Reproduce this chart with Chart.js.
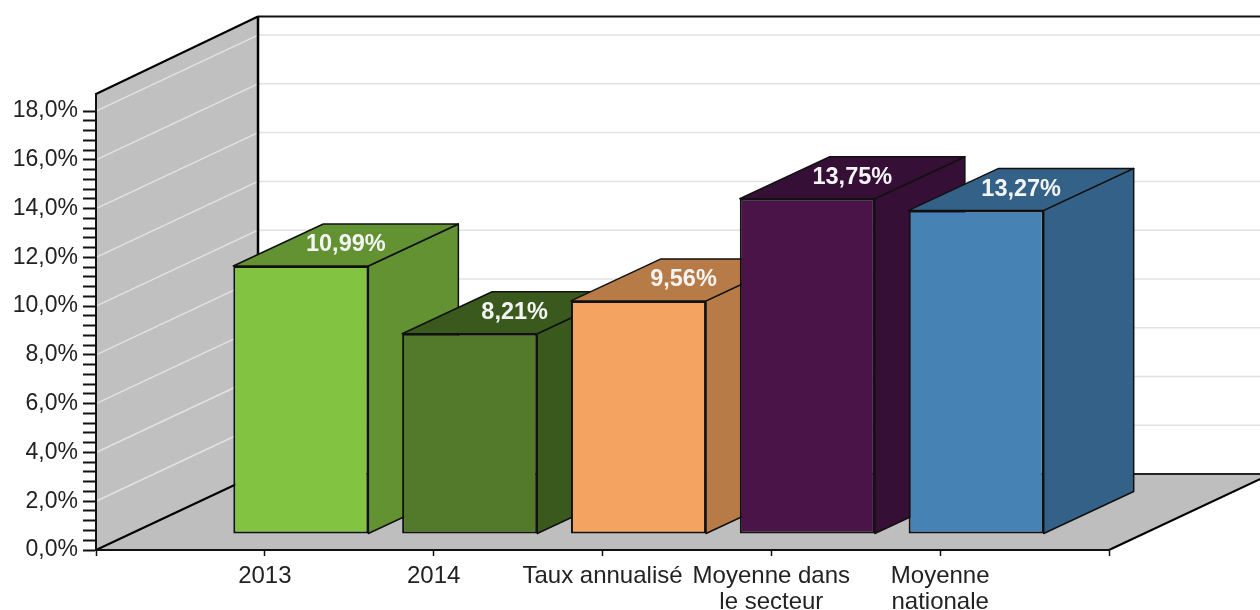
<!DOCTYPE html>
<html><head><meta charset="utf-8">
<style>html,body{margin:0;padding:0;background:#fff}canvas{display:block}</style>
<script src="https://cdn.jsdelivr.net/npm/chart.js@4"></script>
</head><body><canvas id="c" width="1260" height="610"></canvas>
<script>
const categories = ['2013','2014','Taux annualisé',['Moyenne dans','le secteur'],['Moyenne','nationale']];
const values = [10.99, 8.21, 9.56, 13.75, 13.27];
const frontColors = ['#82c341','#527a2a','#f4a460','#4a1449','#4682b4'];
const sideColors = ['#629231','#3a5a1d','#b77b48','#360f36','#336187'];
const gridValues = [2,4,6,8,10,12,14,16,18];

const DX = 162, DY = -76, TOPDY = -77.5; // wall depth
const BX = 36, BY = -16;       // bar inset from the front of the floor
const BDX = 90, BDY = -42;     // bar depth
const fmt = v => v.toFixed(2).replace('.', ',') + '%';

function poly(ctx, pts, fill, stroke, lw){
  ctx.beginPath();
  pts.forEach((p,i)=> i?ctx.lineTo(p[0],p[1]):ctx.moveTo(p[0],p[1]));
  ctx.closePath();
  if(fill){ctx.fillStyle=fill;ctx.fill();}
  if(stroke){ctx.strokeStyle=stroke;ctx.lineWidth=lw;ctx.stroke();}
}
function line(ctx,x0,y0,x1,y1,c,w){
  ctx.beginPath();ctx.moveTo(x0,y0);ctx.lineTo(x1,y1);ctx.strokeStyle=c;ctx.lineWidth=w;ctx.stroke();
}

const box3d = {
  id:'box3d',
  beforeDraw(chart){
    const {ctx,chartArea:a,scales:{y}} = chart;
    const L=a.left,R=a.right,B=a.bottom,T=a.top;
    ctx.save();
    poly(ctx,[[L,B],[L+DX,B+DY],[L+DX,T+TOPDY],[L,T]],'#c0c0c0');
    poly(ctx,[[L,B],[L+DX,B+DY],[R+DX,B+DY],[R,B]],'#bebebe');
    gridValues.forEach(v=>{
      const py=y.getPixelForValue(v);
      line(ctx,L,py,L+DX,py+DY,'#e2e2e2',1.5);
      line(ctx,L+DX,py+DY,R+DX,py+DY,'#e2e2e2',1.5);
    });
    line(ctx,L+DX,T+TOPDY,R+DX,T+TOPDY,'#111',2);
    line(ctx,L+DX,B+DY,R+DX,B+DY,'#222',2);
    line(ctx,L+DX,T+TOPDY,L+DX,B+DY,'#000',2.5);
    line(ctx,L,T,L+DX,T+TOPDY,'#000',2);
    line(ctx,L,B,L+DX,B+DY,'#000',2);
    line(ctx,R,B,R+DX,B+DY,'#000',2);
    ctx.restore();
  },
  beforeDatasetDraw(chart,args){
    const {ctx} = chart;
    const els = args.meta.data;
    ctx.save();
    ctx.lineJoin='round';
    values.forEach((val,i)=>{
      const el=els[i+1], h=el.width/2;
      const l=el.x-h+BX, r=el.x+h+BX, t=el.y+BY, b=el.base+BY;
      poly(ctx,[[r,t],[r+BDX,t+BDY],[r+BDX,b+BDY],[r,b]],sideColors[i],'#111',1.5);
      poly(ctx,[[l,t],[l+BDX,t+BDY],[r+BDX,t+BDY],[r,t]],sideColors[i],'#111',1.5);
    });
    ctx.restore();
    ctx.save();
    ctx.translate(BX,BY);
  },
  afterDatasetDraw(chart,args){
    const {ctx} = chart;
    ctx.restore();
    ctx.save();
    ctx.font='bold 23.5px "Liberation Sans"';
    ctx.fillStyle='#f4f4f4';
    ctx.textAlign='center';
    ctx.textBaseline='middle';
    values.forEach((val,i)=>{
      const el=args.meta.data[i+1];
      ctx.fillText(fmt(val),el.x+BX+BDX/2,el.y+BY+BDY/2);
    });
    ctx.restore();
  }
};

new Chart(document.getElementById('c'),{
  type:'bar',
  data:{
    labels:['',...categories,''],
    datasets:[{
      data:[null,...values,null],
      backgroundColor:['#000',...frontColors,'#000'],
      borderColor:'#111',
      borderWidth:2,
      borderSkipped:false,
      barPercentage:0.8,
      categoryPercentage:1,
      clip:false
    }]
  },
  options:{
    responsive:false,
    animation:false,
    layout:{padding:{left:0,right:151,top:94,bottom:0}},
    plugins:{legend:{display:false},title:{display:false},tooltip:{enabled:false}},
    scales:{
      x:{
        offset:false,
        afterFit:s=>{s.height=60;},
        border:{display:true,color:'#111',width:2},
        grid:{offset:false,drawOnChartArea:false,drawTicks:true,tickLength:6,tickWidth:1.5,tickColor:'#111'},
        ticks:{autoSkip:false,maxRotation:0,minRotation:0,padding:7,color:'#222',font:{family:'"Liberation Sans"',size:24,lineHeight:1.09}}
      },
      y:{
        min:0,max:18.7,
        afterFit:s=>{s.width=96;},
        afterBuildTicks:s=>{s.ticks=s.ticks.filter(t=>t.value<18.5);},
        border:{display:true,color:'#111',width:2},
        grid:{drawOnChartArea:false,drawTicks:true,tickLength:13,tickWidth:2,tickColor:'#111'},
        ticks:{
          stepSize:0.4,autoSkip:false,padding:5,color:'#222',
          font:{family:'"Liberation Sans"',size:23},
          callback:v=>{
            const k=Math.round(v/0.4);
            return k%5===0?(k*0.4).toFixed(1).replace('.',',')+'%':'';
          }
        }
      }
    }
  },
  plugins:[box3d]
});
</script></body></html>
